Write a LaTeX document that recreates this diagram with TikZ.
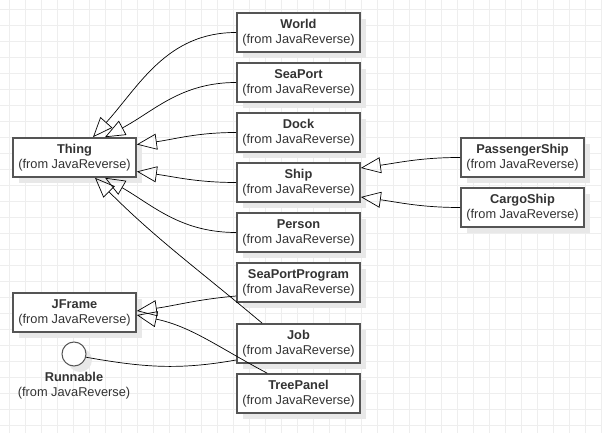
\documentclass[tikz,border=0pt]{standalone}
\usepackage{fontspec}
\setmainfont{Liberation Sans}
\usetikzlibrary{arrows.meta,shadows}
\definecolor{boxline}{HTML}{555555}
\definecolor{textgray}{HTML}{333333}
\definecolor{gridgray}{HTML}{EEEEEE}
\definecolor{shadowgray}{HTML}{E8E8E8}
\tikzset{
  boxshadow/.style={drop shadow={shadow xshift=6pt, shadow yshift=-6pt, fill=shadowgray, opacity=1}},
  classbox/.style={draw=boxline, line width=1.6pt, fill=white, minimum width=123pt,
    minimum height=39pt, inner sep=0pt, align=center, text=textgray,
    font=\fontsize{12.8}{15}\selectfont, boxshadow},
  iface/.style={circle, draw=boxline, line width=1pt, fill=white, minimum size=24pt,
    inner sep=0pt, boxshadow},
  ifacetext/.style={align=center, text=textgray, font=\fontsize{12.8}{15}\selectfont},
  inherit/.style={-{Triangle[open,length=20pt,width=16pt]}, line width=0.7pt},
}
\newcommand{\cls}[1]{\textbf{#1}\\(from JavaReverse)}
\begin{document}
\begin{tikzpicture}[x=1pt,y=1pt]

\useasboundingbox (0,0) rectangle (602,433);
\fill [white] (0,0) rectangle (602,433);

% grid
\foreach \gx in {9.5,25.5,...,601.5}
  \draw [gridgray, line width=1pt] (\gx,0) -- (\gx,433);
\foreach \gy in {7.5,23.5,...,431.5}
  \draw [gridgray, line width=1pt] (0,\gy) -- (602,\gy);

% classes
\node [classbox] (World) at (298.5,400.5) {\cls{World}};
\node [classbox] (SeaPort) at (298.5,350.5) {\cls{SeaPort}};
\node [classbox] (Dock) at (298.5,300.5) {\cls{Dock}};
\node [classbox] (Ship) at (298.5,250.5) {\cls{Ship}};
\node [classbox] (Person) at (298.5,200.5) {\cls{Person}};
\node [classbox] (SeaPortProgram) at (298.5,150.5) {\cls{SeaPortProgram}};
\node [classbox] (Job) at (298.5,89.5) {\cls{Job}};
\node [classbox] (TreePanel) at (298.5,39.5) {\cls{TreePanel}};

\node [classbox] (Thing) at (74.5,275.5) {\cls{Thing}};
\node [classbox] (JFrame) at (74.5,120.5) {\cls{JFrame}};

\node [classbox] (PassengerShip) at (522.5,275.5) {\cls{PassengerShip}};
\node [classbox] (CargoShip) at (522.5,225.5) {\cls{CargoShip}};

% interface
\node [iface] (Runnable) at (74,79) {};
\node [ifacetext] (RunnableText) at (74,47) {\cls{Runnable}};

% generalizations
\draw [inherit] (World.west) to[out=180,in=48] ([xshift=18.5pt]Thing.north);
\draw [inherit] (SeaPort.west) to[out=180,in=28] ([xshift=30.5pt]Thing.north);
\draw [inherit] (Dock.west) to[out=180,in=8] ([yshift=13pt]Thing.east);
\draw [inherit] (Ship.west) to[out=180,in=-8] ([yshift=-14pt]Thing.east);
\draw [inherit] (Person.west) to[out=180,in=-30] ([xshift=30.5pt]Thing.south);
\draw [inherit] ([xshift=26pt]Job.north west) to[out=140,in=-45] ([xshift=20.5pt]Thing.south);

\draw [inherit] ([yshift=-13.5pt]SeaPortProgram.west) to[out=185,in=8] ([yshift=1.5pt]JFrame.east);
\draw [inherit] ([xshift=31pt]TreePanel.north west) to[out=152,in=-12] ([yshift=-2.5pt]JFrame.east);

\draw [inherit] (PassengerShip.west) to[out=180,in=8] ([yshift=14.5pt]Ship.east);
\draw [inherit] (CargoShip.west) to[out=180,in=-8] ([yshift=-14.5pt]Ship.east);

% realization
\draw [line width=0.7pt] ([yshift=-16.5pt]Job.west) to[out=190,in=-10] (Runnable.-15);

\end{tikzpicture}
\end{document}
